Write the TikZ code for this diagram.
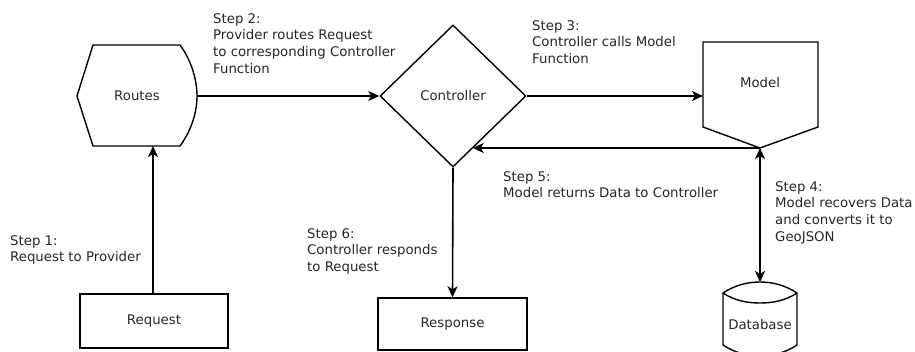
\documentclass[tikz,border=0pt]{standalone}
\usepackage{fontspec}
\setmainfont{DejaVu Sans}
\usetikzlibrary{arrows.meta,shapes.geometric,calc}
\begin{document}
\begin{tikzpicture}[x=1pt,y=-1pt,
  shp/.style={draw=black,line width=1.4pt},
  tip/.style={Stealth[length=11pt,width=10pt,inset=3pt]},
  arr/.style={line width=1.6pt,-{Stealth[length=11pt,width=10pt,inset=3pt]}},
  dblarr/.style={line width=1.6pt,{Stealth[length=11pt,width=10pt,inset=3pt]}-{Stealth[length=11pt,width=10pt,inset=3pt]}},
  lbl/.style={anchor=north west,align=left,inner sep=0pt,font=\fontsize{13.3}{16.7}\selectfont,text=black!85},
  txt/.style={inner sep=0pt,font=\fontsize{13.3}{16}\selectfont,text=black!85}]
\useasboundingbox (0,0) rectangle (915,351);

% Routes (display shape)
\draw[shp] (93,45) -- (180,45) .. controls (191,60) and (197,79) .. (197,96)
  .. controls (197,113) and (191,131) .. (180,146) -- (93,146) -- (77,96) -- cycle;
\node[txt] (routes) at (137,96) {Routes};
\coordinate (routesbot) at (153,146);
\coordinate (routeseast) at (197,96);

% Controller
\node[shp,diamond,minimum width=146pt,minimum height=142pt,inner sep=0pt,txt] (ctrl) at (453,96) {Controller};
\coordinate (c5) at ($(ctrl.east)!0.732!(ctrl.south)$);

% Model (off-page connector)
\draw[shp] (703,42) -- (818,42) -- (818,127) -- (760,148) -- (703,127) -- cycle;
\node[txt] (model) at (760,83) {Model};
\coordinate (mwest) at (703,96);
\coordinate (mbot) at (760,148);

% Database
\draw[shp] (723,293) .. controls (735,285) and (748,282) .. (760,282)
  .. controls (772,282) and (785,285) .. (797,293)
  -- (797,345) .. controls (785,353) and (772,356) .. (760,356)
  .. controls (748,356) and (735,353) .. (723,345) -- cycle;
\draw[shp] (723,293) .. controls (735,301) and (748,303) .. (760,303)
  .. controls (772,303) and (785,301) .. (797,293);
\node[txt] (db) at (760,325) {Database};
\coordinate (dbtop) at (760,282);

% Request / Response
\node[shp,rectangle,minimum width=148pt,minimum height=54pt,inner sep=0pt,txt] (req) at (154,321) {Request};
\node[shp,rectangle,minimum width=149pt,minimum height=52pt,inner sep=0pt,txt] (resp) at (452.5,324) {Response};

% connectors
\draw[arr] (req.north -| routesbot) -- (routesbot);
\draw[arr] (routeseast) -- (ctrl.west);
\draw[arr] (ctrl.east) -- (ctrl.east -| mwest);
\draw[arr] (mbot) -- (mbot -| c5);
\draw[dblarr] (mbot) -- (dbtop);
\draw[arr] (ctrl.south) -- (resp.north);

% labels
\node[lbl] (s1) at (10,235) {Step 1:\\Request to Provider};
\node[lbl] (s2) at (213,13) {Step 2:\\Provider routes Request\\to corresponding Controller\\Function};
\node[lbl] (s3) at (532,20) {Step 3:\\Controller calls Model\\Function};
\node[lbl] (s4) at (775,181) {Step 4:\\Model recovers Data\\and converts it to\\GeoJSON};
\node[lbl] (s5) at (503,171) {Step 5:\\Model returns Data to Controller};
\node[lbl] (s6) at (307,228) {Step 6:\\Controller responds\\to Request};
\end{tikzpicture}
\end{document}
